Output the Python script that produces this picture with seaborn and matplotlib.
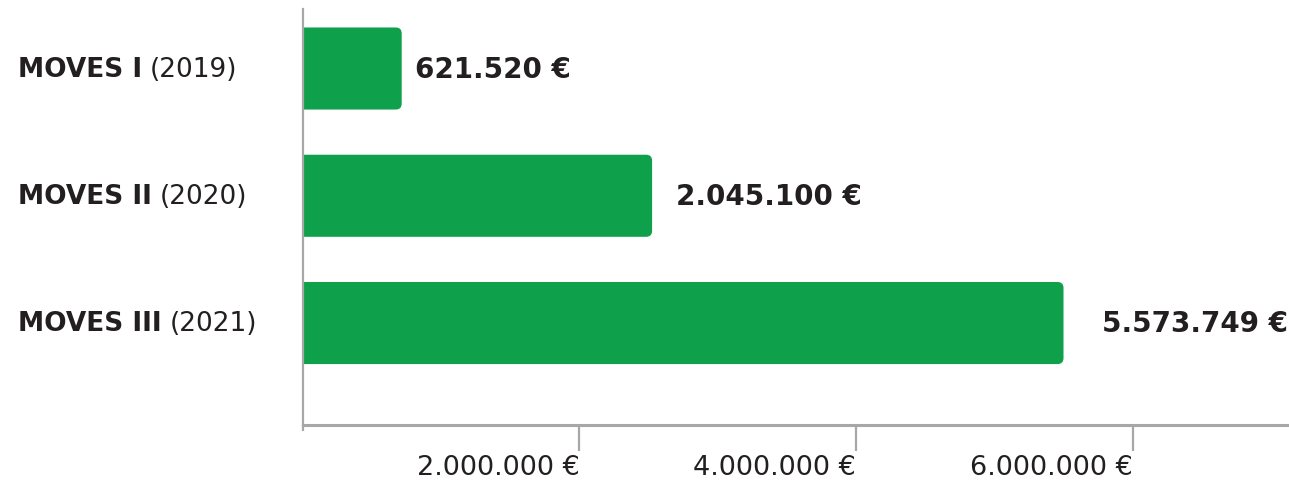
import numpy as np
import pandas as pd
import seaborn as sns
import matplotlib.pyplot as plt
from matplotlib.patches import FancyBboxPatch
from matplotlib.ticker import FixedLocator

# data (bar lengths as drawn, labels as printed)
programs = ["MOVES I", "MOVES II", "MOVES III"]
years = ["(2019)", "(2020)", "(2021)"]
bar_values = [716000, 2526000, 5500000]
value_labels = ["621.520 €", "2.045.100 €", "5.573.749 €"]
x_ticks = [2000000, 4000000, 6000000]
x_tick_labels = ["2.000.000 €", "4.000.000 €", "6.000.000 €"]

GREEN = "#0fa04b"
GRAY = "#a7a7aa"
TEXT = "#231f20"
label_pad_px = [13, 24, 38]

sns.set_style("white")
plt.rcParams['font.family'] = ['DejaVu Sans']

df = pd.DataFrame({'program': programs, 'value': bar_values})

fig = plt.figure(figsize=(12.89, 4.85), dpi=100)
ax = fig.add_axes([0.2348, 0.122, 0.7652, 0.858])

sns.barplot(data=df, x='value', y='program', color=GREEN, width=0.645,
            saturation=1, ax=ax)

ax.set_xlim(0, 7.13e6)
ax.set_ylim(2.8, -0.47)

# swap bars for ones with rounded right corners
px_x = 138.3 / 1e6
px_y = 127.0
for p in list(ax.patches):
    x0, y0, w, h = p.get_x(), p.get_y(), p.get_width(), p.get_height()
    p.remove()
    r = 6 / px_x
    ax.add_patch(FancyBboxPatch((x0 - r, y0), w + r, h,
                                boxstyle="round,pad=0,rounding_size=%f" % r,
                                mutation_aspect=px_x / px_y,
                                facecolor=GREEN, edgecolor='none',
                                clip_on=True, zorder=2))

# value labels
for i, (v, lab) in enumerate(zip(bar_values, value_labels)):
    ax.annotate(lab, (v, i), xytext=(label_pad_px[i], 0),
                textcoords='offset pixels', ha='left', va='center',
                fontsize=20, fontweight='heavy', color=TEXT,
                annotation_clip=False)

# y labels: bold program name + regular year
ax.set_yticks(range(len(programs)))
ax.set_yticklabels([])
ax.tick_params(axis='y', length=0)
fig.canvas.draw()
renderer = fig.canvas.get_renderer()
for i, (name, yr) in enumerate(zip(programs, years)):
    y_px = ax.transData.transform((0, i))[1]
    t = ax.annotate(name, xy=(18, y_px), xycoords='figure pixels',
                    ha='left', va='center', fontsize=19, fontweight='heavy',
                    color=TEXT, annotation_clip=False)
    bb = t.get_window_extent(renderer)
    ax.annotate(yr, xy=(bb.x1 + 8, y_px), xycoords='figure pixels',
                ha='left', va='center', fontsize=19, color=TEXT,
                annotation_clip=False)

# x axis
ax.xaxis.set_major_locator(FixedLocator(x_ticks))
ax.set_xticklabels(x_tick_labels, ha='right', fontsize=19.5, color=TEXT)
ax.xaxis.set_minor_locator(FixedLocator([0]))
ax.tick_params(axis='x', which='both', bottom=True)
ax.tick_params(axis='x', which='major', length=19, width=1.6, color=GRAY, pad=2)
ax.tick_params(axis='x', which='minor', length=4, width=1.6, color=GRAY)
ax.set_xlabel('')
ax.set_ylabel('')

for s in ['top', 'right']:
    ax.spines[s].set_visible(False)
ax.spines['bottom'].set_color(GRAY)
ax.spines['bottom'].set_linewidth(2.2)
ax.spines['left'].set_color(GRAY)
ax.spines['left'].set_linewidth(1.6)
ax.spines['left'].set_zorder(3)

fig.savefig('out.png', dpi=100)
